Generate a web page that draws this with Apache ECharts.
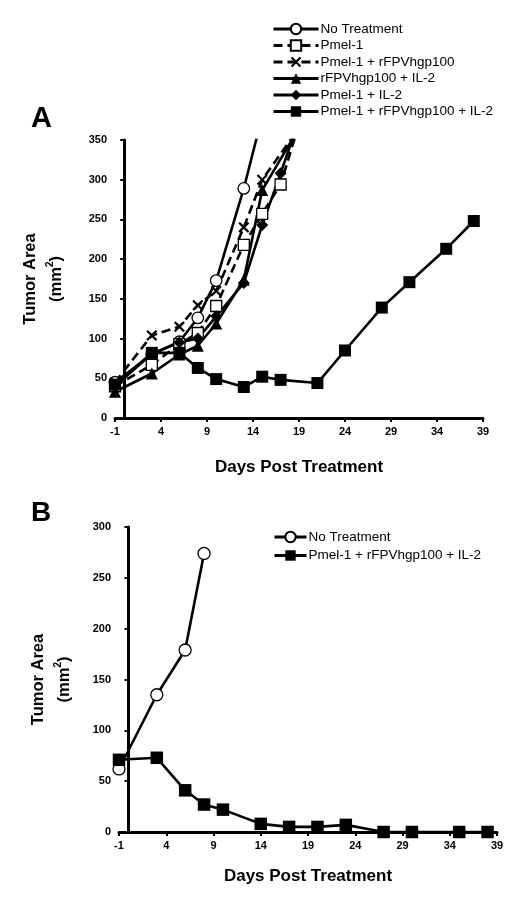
<!DOCTYPE html>
<html><head><meta charset="utf-8">
<script src="https://cdn.jsdelivr.net/npm/echarts@6/dist/echarts.min.js"></script>
<style>html,body{margin:0;padding:0;background:#fff}#c{width:525px;height:902px}</style>
</head><body><div id="c"></div>
<script>
// ---- Panel A data ----
const noTreatA_days = [-1, 3, 6, 8, 10, 13, 15];
const noTreatA_vals = [45, 80, 96, 126, 173, 289, 380];
const pmelA_days = [-1, 3, 6, 8, 10, 13, 15, 17, 19];
const pmelA_vals = [40, 67, 93, 107, 141, 218, 257, 294, 370];
const pmelVacA_days = [-1, 3, 6, 8, 10, 13, 15, 19];
const pmelVacA_vals = [45, 104, 115, 142, 160, 240, 300, 365];
const vacIL2A_days = [-1, 3, 6, 8, 10, 13, 15, 19];
const vacIL2A_vals = [33, 56, 80, 91, 119, 174, 287, 365];
const pmelIL2A_days = [-1, 3, 6, 8, 10, 13, 15, 17, 19];
const pmelIL2A_vals = [40, 81, 95, 100, 128, 170, 243, 308, 375];
const comboA_days = [-1, 3, 6, 8, 10, 13, 15, 17, 21, 24, 28, 31, 35, 38];
const comboA_vals = [42, 82, 82, 63, 49, 39, 52, 48, 44, 85, 139, 171, 213, 248];
// ---- Panel B data ----
const noTreatB_days = [-1, 3, 6, 8];
const noTreatB_vals = [62, 135, 179, 274];
const comboB_days = [-1, 3, 6, 8, 10, 14, 17, 20, 23, 27, 30, 35, 38];
const comboB_vals = [71, 73, 41, 27, 22, 8, 5, 5, 7, 0, 0, 0, 0];
// ---- labels ----
const seriesNames = ['No Treatment', 'Pmel-1', 'Pmel-1 + rFPVhgp100', 'rFPVhgp100 + IL-2', 'Pmel-1 + IL-2', 'Pmel-1 + rFPVhgp100 + IL-2'];
const xTicksMin = -1, xTicksMax = 39, xTickStep = 5;
const yMaxA = 350, yMaxB = 300, yStep = 50;

const pair = (d, v) => d.map((x, i) => [x, v[i]]);
const FONT = 'Liberation Sans, Arial, Helvetica, sans-serif';
const X_PATH = 'path://M0,1.4L1.4,0L5,3.6L8.6,0L10,1.4L6.4,5L10,8.6L8.6,10L5,6.4L1.4,10L0,8.6L3.6,5Z';

function mk(name, data, xi, symbol, size, fill, dashed) {
  return {
    name, type: 'line', xAxisIndex: xi, yAxisIndex: xi, data,
    symbol, symbolSize: size, showAllSymbol: true, clip: true,
    lineStyle: { color: '#000', width: 2.6, type: dashed ? [9, 5] : 'solid' },
    itemStyle: { color: fill, borderColor: '#000', borderWidth: fill === '#fff' ? 1.3 : 0 },
    emphasis: { disabled: true }, animation: false, z: 2
  };
}

function xAxis(gi) {
  return {
    type: 'value', gridIndex: gi, min: xTicksMin, max: xTicksMax, interval: xTickStep,
    name: 'Days Post Treatment', nameLocation: 'middle', nameGap: gi === 0 ? 41 : 36,
    nameTextStyle: { fontFamily: FONT, fontWeight: 'bold', fontSize: 17, color: '#000' },
    axisLine: { show: true, onZero: false, lineStyle: { color: '#000', width: 3 } },
    axisTick: { show: true, length: 4, lineStyle: { color: '#000', width: 2 } },
    axisLabel: { fontFamily: FONT, fontWeight: 'bold', fontSize: 11, color: '#000', margin: 8 },
    splitLine: { show: false }
  };
}
function yAxis(gi, max, gap) {
  return {
    type: 'value', gridIndex: gi, min: 0, max, interval: yStep,
    name: '{a|Tumor Area}\n{a|(mm}{s|2}{a|)}', nameLocation: 'middle', nameRotate: 90, nameGap: gap,
    nameTextStyle: {
      fontFamily: FONT, fontWeight: 'bold', fontSize: 16, color: '#000', lineHeight: 26,
      rich: {
        a: { fontFamily: FONT, fontWeight: 'bold', fontSize: 16.5, color: '#000', lineHeight: 26 },
        s: { fontFamily: FONT, fontWeight: 'bold', fontSize: 10, color: '#000', lineHeight: 26, padding: [0, 0, 12, 0] }
      }
    },
    axisLine: { show: true, lineStyle: { color: '#000', width: 3 } },
    axisTick: { show: true, length: 4, lineStyle: { color: '#000', width: 2 } },
    axisLabel: { fontFamily: FONT, fontWeight: 'bold', fontSize: 11, color: '#000', margin: 8 },
    splitLine: { show: false }
  };
}

const chart = echarts.init(document.getElementById('c'), null, { renderer: 'canvas' });
chart.setOption({
  backgroundColor: '#fff',
  animation: false,
  title: [
    { text: 'A', left: 26, top: 99, textStyle: { fontFamily: FONT, fontWeight: 'bold', fontSize: 29, color: '#000' } },
    { text: 'B', left: 26, top: 494, textStyle: { fontFamily: FONT, fontWeight: 'bold', fontSize: 28, color: '#000' } }
  ],
  legend: [
    {
      data: seriesNames, left: 267, top: 17, orient: 'vertical', itemWidth: 45, itemHeight: 13, itemGap: 2.5,
      lineStyle: { width: 3 },
      textStyle: { fontFamily: FONT, fontSize: 13.5, lineHeight: 14, color: '#000', padding: [0, 0, 0, -3] },
      selectedMode: false
    },
    {
      data: [{ name: 'No Treatment B' }, { name: 'Combo B' }], left: 268, top: 525, orient: 'vertical',
      itemWidth: 32, itemHeight: 13, itemGap: 4.5,
      lineStyle: { width: 3 },
      formatter: n => n === 'No Treatment B' ? seriesNames[0] : seriesNames[5],
      textStyle: { fontFamily: FONT, fontSize: 13.5, lineHeight: 14, color: '#000', padding: [0, 0, 0, -3] },
      selectedMode: false
    }
  ],
  grid: [
    { left: 115, right: 42, top: 140, bottom: 484 },
    { left: 119, right: 28, top: 527, bottom: 70 }
  ],
  xAxis: [xAxis(0), xAxis(1)],
  yAxis: [yAxis(0, yMaxA, 46), yAxis(1, yMaxB, 42)],
  series: [
    mk(seriesNames[0], pair(noTreatA_days, noTreatA_vals), 0, 'circle', 11.5, '#fff', false),
    mk(seriesNames[1], pair(pmelA_days, pmelA_vals), 0, 'rect', 11, '#fff', true),
    mk(seriesNames[2], pair(pmelVacA_days, pmelVacA_vals), 0, X_PATH, 11, '#000', true),
    mk(seriesNames[3], pair(vacIL2A_days, vacIL2A_vals), 0, 'triangle', 12, '#000', false),
    mk(seriesNames[4], pair(pmelIL2A_days, pmelIL2A_vals), 0, 'diamond', 12, '#000', false),
    mk(seriesNames[5], pair(comboA_days, comboA_vals), 0, 'rect', 12, '#000', false),
    mk('No Treatment B', pair(noTreatB_days, noTreatB_vals), 1, 'circle', 12, '#fff', false),
    mk('Combo B', pair(comboB_days, comboB_vals), 1, 'rect', 12.5, '#000', false)
  ]
});
</script></body></html>
